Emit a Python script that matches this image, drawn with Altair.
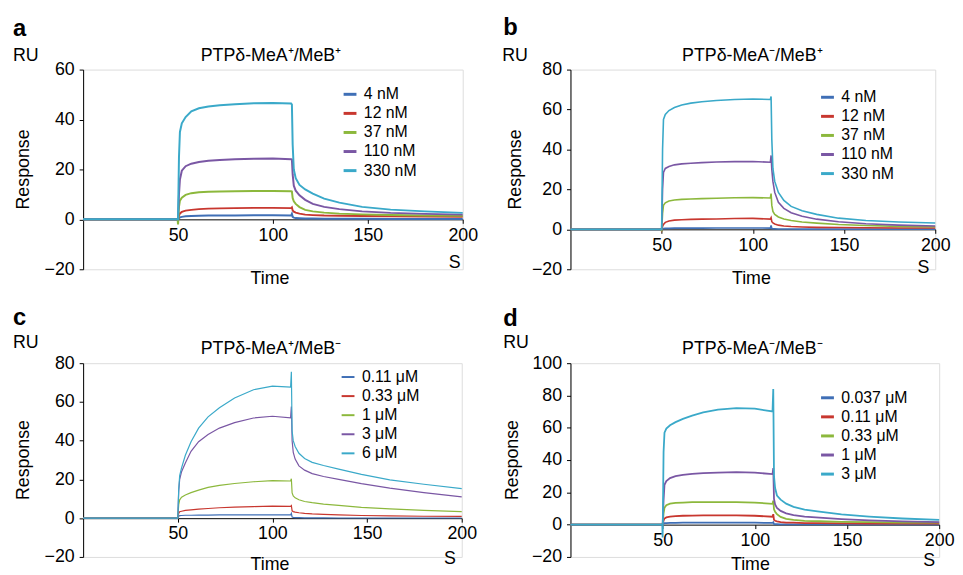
import altair as alt
import pandas as pd

FONT = "Liberation Sans"
COLORS = ["#3f6fb6", "#c8372f", "#8cb83c", "#7a57a4", "#3aa9c9"]

# Shared time grid (s)
T = [0, 49.8, 50, 50.5, 51, 52, 54, 57, 61, 66, 72, 80, 90, 100, 109.6, 110, 110.4,
     111, 112, 114, 117, 121, 127, 135, 147, 162, 180, 200]

# Panel a: PTPδ-MeA+/MeB+
a_labels = ["4 nM", "12 nM", "37 nM", "110 nM", "330 nM"]
a_4 = [0, 0, 0, 0.5, 0.8, 1.0, 1.2, 1.3, 1.4, 1.5, 1.5, 1.5, 1.6, 1.6, 1.5, 2.2, 1.0, 0.7, 0.5, 0.4, 0.3, 0.3, 0.2, 0.2, 0.2, 0.1, 0.1, 0.1]
a_12 = [0, 0, 0, 1.5, 2.4, 3.0, 3.5, 3.8, 4.1, 4.3, 4.4, 4.5, 4.6, 4.6, 4.5, 4.8, 3.6, 3.1, 2.7, 2.3, 1.9, 1.7, 1.5, 1.4, 1.3, 1.2, 1.1, 1.0]
a_37 = [0, 0, -2, 5, 7.5, 8.7, 9.8, 10.5, 10.9, 11.1, 11.2, 11.3, 11.4, 11.4, 11.3, 11.2, 8.5, 7.2, 6.2, 4.9, 3.8, 3.2, 2.7, 2.3, 2.0, 1.7, 1.5, 1.4]
a_110 = [0, 0, 0, 10, 16, 19.5, 21.3, 22.3, 23.0, 23.5, 23.8, 24.1, 24.3, 24.4, 24.1, 24.0, 18, 13.5, 11.5, 9.6, 7.8, 6.2, 5.0, 4.1, 3.2, 2.6, 2.2, 1.9]
a_330 = [0, 0, 0, 25, 35, 38.5, 41, 43.3, 44.5, 45.2, 45.7, 46.1, 46.5, 46.6, 46.4, 46.0, 30, 20, 16.5, 13.8, 12.0, 10.3, 8.3, 6.7, 5.0, 3.9, 3.2, 2.6]

# Panel b: PTPδ-MeA-/MeB+
b_labels = ["4 nM", "12 nM", "37 nM", "110 nM", "330 nM"]
b_4 = [0, 0, 0, 0.3, 0.4, 0.5, 0.5, 0.6, 0.6, 0.6, 0.6, 0.7, 0.7, 0.7, 0.6, 2.0, 0.4, 0.3, 0.3, 0.2, 0.2, 0.2, 0.1, 0.1, 0.1, 0.1, 0.1, 0.1]
b_12 = [0, 0, -0.5, 1.5, 2.5, 3.5, 4.2, 4.6, 4.8, 5.0, 5.1, 5.2, 5.4, 5.5, 5.1, 5.8, 3.8, 3.2, 2.7, 2.1, 1.7, 1.4, 1.2, 1.0, 0.9, 0.8, 0.7, 0.7]
b_37 = [0, 0, -1, 8, 12, 13.3, 14.2, 14.7, 15.0, 15.2, 15.4, 15.6, 15.8, 15.9, 15.7, 17.9, 12, 9, 7.5, 6.2, 5.2, 4.4, 3.7, 3.1, 2.4, 1.9, 1.5, 1.3]
b_110 = [0, 0, 0, 20, 28.5, 30.5, 31.5, 32.3, 32.8, 33.1, 33.4, 33.7, 33.9, 34.0, 33.6, 37.0, 30, 24, 18.5, 13.5, 10.5, 8.3, 6.6, 5.1, 3.8, 2.8, 2.1, 1.7]
b_330 = [0, 0, 0, 40, 55, 57.5, 59.5, 61, 62.3, 63.2, 63.9, 64.5, 65.0, 65.3, 65.0, 66.5, 45, 30.5, 24, 18.5, 14.5, 11.5, 9.3, 7.5, 5.6, 4.4, 3.7, 3.2]

# Panel c: PTPδ-MeA+/MeB-
c_labels = ["0.11 μM", "0.33 μM", "1 μM", "3 μM", "6 μM"]
c_011 = [0, 0, 0, 1.0, 1.3, 1.4, 1.5, 1.5, 1.6, 1.6, 1.7, 1.7, 1.7, 1.7, 1.7, 2.5, 0.6, 0.4, 0.3, 0.3, 0.2, 0.2, 0.2, 0.1, 0.1, 0.1, 0.1, 0.1]
c_033 = [0, 0, 0, 2.5, 3.3, 3.6, 4.0, 4.3, 4.7, 5.0, 5.4, 5.7, 6.0, 6.2, 6.1, 6.5, 3.8, 3.4, 3.1, 2.8, 2.5, 2.2, 2.0, 1.7, 1.4, 1.2, 1.0, 0.9]
c_1 = [0, 0, 0, 7, 9.5, 10.8, 12.0, 13.2, 14.5, 15.9, 16.9, 17.9, 18.8, 19.4, 19.2, 20.4, 13, 11.5, 10.5, 9.5, 8.6, 8.0, 7.3, 6.6, 5.6, 4.8, 4.0, 3.4]
c_3 = [0, 0, 0, 14, 20, 24, 28.5, 34.5, 39.5, 43.2, 46.5, 49.3, 51.7, 52.6, 51.8, 57.6, 40, 34, 30.5, 27, 24.8, 23, 21.5, 20, 17.8, 15.5, 13.2, 11]
c_6 = [0, 0, 0, 15, 22, 26, 32.5, 39.5, 46.5, 52.3, 57, 62, 66.3, 68.2, 67.6, 75.6, 45, 40, 37, 33.5, 30.8, 28.8, 27.2, 25.3, 22.6, 19.8, 17.5, 15.3]

# Panel d: PTPδ-MeA-/MeB-
d_labels = ["0.037 μM", "0.11 μM", "0.33 μM", "1 μM", "3 μM"]
d_0037 = [0, 0, 0, 0.6, 0.9, 1.0, 1.1, 1.1, 1.2, 1.2, 1.2, 1.2, 1.2, 1.2, 1.1, 1.5, 0.4, 0.3, 0.3, 0.2, 0.2, 0.2, 0.1, 0.1, 0.1, 0.1, 0.1, 0.1]
d_011 = [0, 0, 0, 2.5, 3.8, 4.5, 5.0, 5.3, 5.5, 5.6, 5.7, 5.7, 5.7, 5.5, 4.9, 6.5, 3.0, 2.4, 2.0, 1.6, 1.3, 1.2, 1.0, 0.9, 0.8, 0.7, 0.6, 0.6]
d_033 = [0, 0, 0, 7, 10.4, 12.0, 13.0, 13.5, 13.7, 13.9, 13.9, 13.9, 13.9, 13.7, 12.9, 14.9, 9.5, 8.0, 6.5, 4.8, 3.6, 2.9, 2.4, 2.1, 1.7, 1.5, 1.3, 1.2]
d_1 = [0, 0, 0, 15, 24.7, 27, 28.8, 30.0, 30.8, 31.4, 31.9, 32.2, 32.5, 32.2, 31.3, 35, 16, 12.5, 10.4, 8.5, 7, 5.9, 5.0, 4.3, 3.4, 2.6, 2.0, 1.6]
d_3 = [0, 0, -8, 45, 57, 59.5, 61.5, 63.5, 65.5, 67.5, 69.5, 71.2, 72.2, 71.8, 70.1, 84, 30, 22.7, 18, 15.5, 13, 11.0, 9.3, 8.0, 6.3, 5.0, 3.8, 2.9]

letters = ["a", "b", "c", "d"]
titles = ["PTPδ-MeA⁺/MeB⁺", "PTPδ-MeA⁻/MeB⁺", "PTPδ-MeA⁺/MeB⁻", "PTPδ-MeA⁻/MeB⁻"]
x_ticks = [50, 100, 150, 200]

panels = [
    dict(labels=a_labels, series=[a_4, a_12, a_37, a_110, a_330], yd=[-20, 60], yt=[-20, 0, 20, 40, 60],
         w=384, h=202, sw=2.0, lx=262, ly=17, ls=3,
         letter=(-71, -34), ru=(-71, -9), title=(190, -9), s=(376, 201), time=(189, 217), resp=(-60, 101)),
    dict(labels=b_labels, series=[b_4, b_12, b_37, b_110, b_330], yd=[-20, 80], yt=[-20, 0, 20, 40, 60, 80],
         w=369, h=202, sw=1.6, lx=252, ly=20, ls=3,
         letter=(-68, -35), ru=(-69, -9), title=(184, -9), s=(357, 206), time=(183, 217), resp=(-55, 101)),
    dict(labels=c_labels, series=[c_011, c_033, c_1, c_3, c_6], yd=[-20, 80], yt=[-20, 0, 20, 40, 60, 80],
         w=383, h=196, sw=1.2, lx=260, ly=6, ls=2,
         letter=(-71, -39), ru=(-71, -15), title=(190, -9), s=(371, 203), time=(189, 209), resp=(-60, 98)),
    dict(labels=d_labels, series=[d_0037, d_011, d_033, d_1, d_3], yd=[-20, 100], yt=[-20, 0, 20, 40, 60, 80, 100],
         w=373, h=196, sw=1.8, lx=252, ly=27, ls=3,
         letter=(-68, -38), ru=(-68, -15), title=(184, -9), s=(363, 205), time=(182, 209), resp=(-58, 98)),
]

one = pd.DataFrame({"k": [0]})


def text_layer(txt, pos, size=18, weight="normal", align="left", angle=0, baseline="alphabetic"):
    return alt.Chart(one).mark_text(
        font=FONT, fontSize=size, fontWeight=weight, align=align, baseline=baseline,
        angle=angle, color="black"
    ).encode(x=alt.value(pos[0]), y=alt.value(pos[1]), text=alt.value(txt))


charts = []
for i, p in enumerate(panels):
    rows = []
    for lab, vals in zip(p["labels"], p["series"]):
        for t, v in zip(T, vals):
            rows.append({"t": t, "v": v, "s": lab})
    df = pd.DataFrame(rows)
    ymin, ymax = p["yd"]
    off = p["h"] * (0 - ymin) / (ymax - ymin)
    lines = alt.Chart(df).mark_line(strokeWidth=p["sw"]).encode(
        x=alt.X("t:Q", scale=alt.Scale(domain=[0, 200], nice=False, zero=False),
                axis=alt.Axis(values=x_ticks, offset=-off, title=None, grid=False,
                              domainColor="black", tickColor="black", tickSize=4,
                              labelFont=FONT, labelFontSize=18, labelColor="black",
                              labelPadding=3, labelFlush=False, labelOverlap=False)),
        y=alt.Y("v:Q", scale=alt.Scale(domain=[ymin, ymax], nice=False, zero=False),
                axis=alt.Axis(values=p["yt"], title=None, grid=False,
                              domainColor="black", tickColor="black", tickSize=4,
                              labelFont=FONT, labelFontSize=18, labelColor="black",
                              labelPadding=5, labelFlush=False, labelOverlap=False)),
        color=alt.Color("s:N", sort=p["labels"],
                        scale=alt.Scale(domain=p["labels"], range=COLORS),
                        legend=alt.Legend(orient="none", legendX=p["lx"], legendY=p["ly"], title=None,
                                          symbolType="stroke", symbolStrokeWidth=p["ls"], symbolSize=169,
                                          labelFont=FONT, labelFontSize=16, labelColor="black",
                                          rowPadding=3.3, padding=0, labelOffset=6)),
    )
    layer = alt.layer(
        lines,
        text_layer(letters[i], p["letter"], size=24, weight="bold"),
        text_layer("RU", p["ru"]),
        text_layer(titles[i], p["title"], align="center"),
        text_layer("S", p["s"], align="center"),
        text_layer("Time", p["time"], align="center"),
        text_layer("Response", p["resp"], align="center", angle=270, baseline="middle"),
    ).properties(width=p["w"], height=p["h"])
    charts.append(layer)

chart = alt.concat(*charts, columns=2, spacing={"row": 95, "column": 109}).properties(
    bounds="flush", padding={"left": 4, "top": 4, "right": 0, "bottom": 0}
).resolve_scale(color="independent").resolve_legend(color="independent").configure_view(
    stroke=None
).configure(background="white")

chart.save("out.html", embed_options={"renderer": "svg", "actions": False})
